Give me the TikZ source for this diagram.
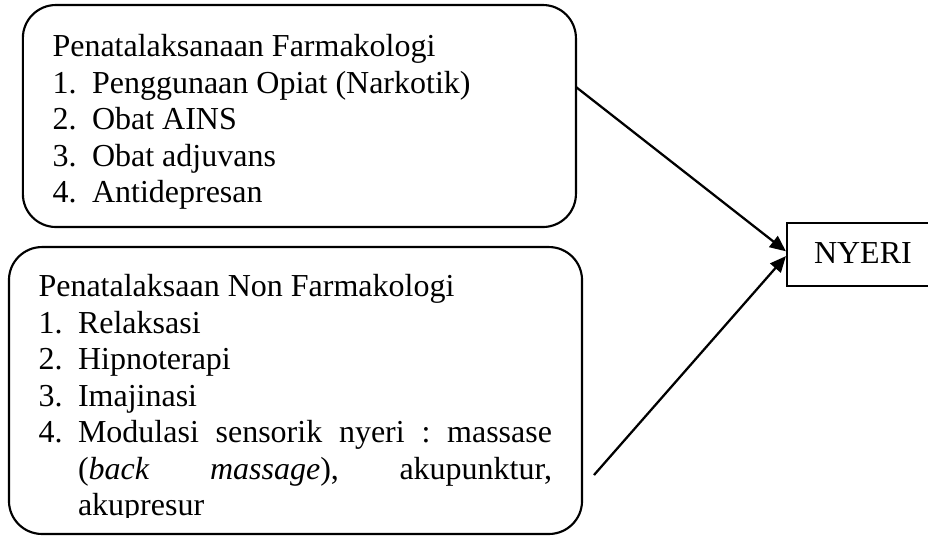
\documentclass[tikz,border=0pt]{standalone}
\usepackage{fontspec}
\setmainfont{Liberation Serif}
\usetikzlibrary{arrows.meta}
\frenchspacing
\begin{document}
\begin{tikzpicture}[x=0.375pt,y=-0.375pt,
  font=\fontsize{12pt}{13.7pt}\selectfont\frenchspacing,
  roundbox/.style={draw, line width=0.8pt, rounded corners=12.4pt, inner sep=0pt},
  sqbox/.style={draw, line width=0.8pt, inner sep=0pt},
  txt/.style={anchor=base west, inner sep=0pt, outer sep=0pt},
  arr/.style={line width=0.85pt, -{Triangle[length=6pt,width=5.2pt]}}]
\useasboundingbox (0,0) rectangle (928,535);
% boxes
\node[roundbox, minimum width=207.4pt, minimum height=83.25pt] (farm) at (299.4,116) {};
\node[roundbox, minimum width=214.9pt, minimum height=107.6pt] (nonfarm) at (295.5,390.5) {};
\node[sqbox, minimum width=56.25pt, minimum height=23.6pt] (nyeri) at (862,254.5) {};
\node[txt] (nyeritxt) at (814,263.5) {NYERI};
% top box text
\node[txt] (f0) at (52.5,56.5) {Penatalaksanaan Farmakologi};
\node[txt] (f1n) at (52.5,93) {1.};
\node[txt] (f1) at (92,93) {Penggunaan Opiat (Narkotik)};
\node[txt] (f2n) at (52.5,129.5) {2.};
\node[txt] (f2) at (92,129.5) {Obat AINS};
\node[txt] (f3n) at (52.5,166) {3.};
\node[txt] (f3) at (92,166) {Obat adjuvans};
\node[txt] (f4n) at (52.5,202.5) {4.};
\node[txt] (f4) at (92,202.5) {Antidepresan};
% bottom box text
\node[txt] (n0) at (38.5,296.5) {Penatalaksaan Non Farmakologi};
\node[txt] (n1n) at (38.5,333) {1.};
\node[txt] (n1) at (78,333) {Relaksasi};
\node[txt] (n2n) at (38.5,369.5) {2.};
\node[txt] (n2) at (78,369.5) {Hipnoterapi};
\node[txt] (n3n) at (38.5,406) {3.};
\node[txt] (n3) at (78,406) {Imajinasi};
\node[txt] (n4n) at (38.5,442.5) {4.};
\node[txt] (n4a) at (78,442.5) {\makebox[177.75pt][s]{Modulasi sensorik nyeri : massase}};
\node[txt] (n4b) at (78,479) {\makebox[177.75pt][s]{(\textit{back} \textit{massage}), akupunktur,}};
\begin{scope}
\clip (0,0) rectangle (928,517.5);
\node[txt] (n4c) at (78,515) {akupresur};
\end{scope}
% connectors
\coordinate (s1) at (576,87);
\coordinate (s2) at (594,475);
\draw[arr] (s1) -- ([yshift=1.2pt]nyeri.west);
\draw[arr] (s2) -- ([yshift=-0.6pt]nyeri.west);
\end{tikzpicture}
\end{document}
